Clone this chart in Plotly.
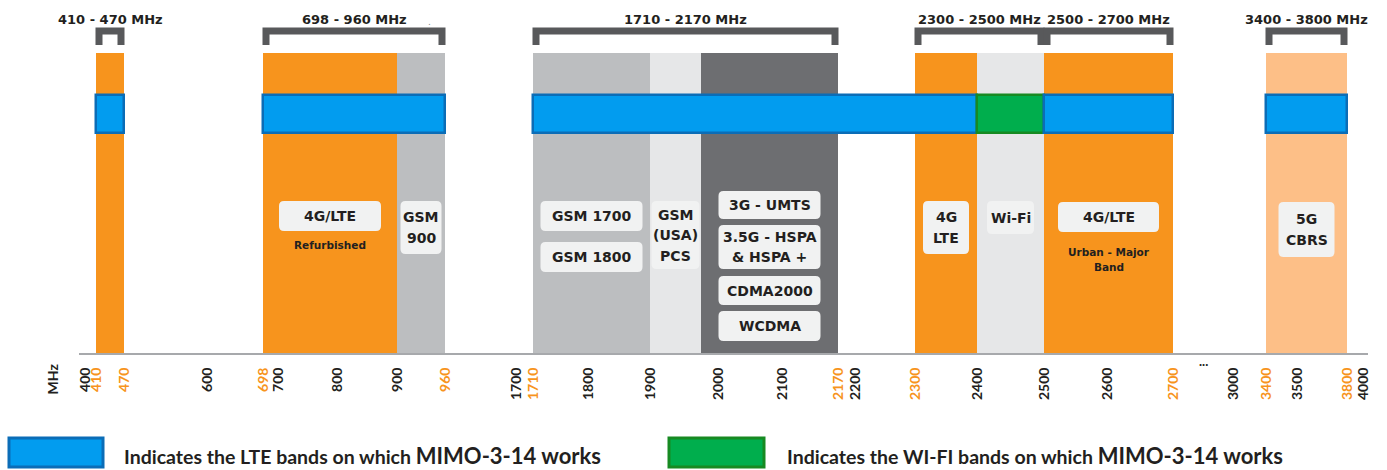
import numpy as np
import plotly.graph_objects as go

# ---------------- data ----------------
# frequency bands drawn as coloured columns (MHz)
band_start = [410, 698, 900, 1710, 1900, 1975, 2300, 2400, 2500, 3400]
band_end = [470, 900, 960, 1900, 1975, 2170, 2400, 2500, 2700, 3800]
band_kind = ["lte", "lte", "gsm", "gsm", "pcs", "umts", "lte", "wifi", "lte", "cbrs"]

# bands on which MIMO-3-14 works
support_start = [410, 698, 1710, 2400, 2500, 3400]
support_end = [470, 960, 2400, 2500, 2700, 3800]
support_type = ["LTE", "LTE", "LTE", "WIFI", "LTE", "LTE"]

# bracketed ranges at the top
range_start = [410, 698, 1710, 2300, 2500, 3400]
range_end = [470, 960, 2170, 2500, 2700, 3800]

# axis tick labels (MHz)
tick_values = [400, 410, 470, 600, 698, 700, 800, 900, 960, 1700, 1710, 1800, 1900,
               2000, 2100, 2170, 2200, 2300, 2400, 2500, 2600, 2700, 3000, 3400,
               3500, 3800, 4000]
tick_highlight = [410, 470, 698, 960, 1710, 2170, 2300, 2700, 3400, 3800]

# technology labels: (band index, lines)
tech_band = [1, 2, 3, 3, 4, 5, 5, 5, 5, 6, 7, 8, 9]
tech_lines = [["4G/LTE"], ["GSM", "900"], ["GSM 1700"], ["GSM 1800"],
              ["GSM", "(USA)", "PCS"], ["3G - UMTS"], ["3.5G - HSPA", "& HSPA +"],
              ["CDMA2000"], ["WCDMA"], ["4G", "LTE"], ["Wi-Fi"], ["4G/LTE"],
              ["5G", "CBRS"]]
sub_band = [1, 8]
sub_lines = [["Refurbished"], ["Urban - Major", "Band"]]

# ---------------- scale (broken, hand-spaced frequency axis) ----------------
BREAK_FREQ = [400, 410, 470, 600, 698, 700, 800, 900, 960, 1700, 1710, 1800, 1900,
              2000, 2100, 2170, 2200, 2300, 2400, 2500, 2600, 2700, 3000, 3400,
              3500, 3800, 4000]
BREAK_POS = [85, 96, 124, 207, 263, 278, 337, 397, 445, 516, 533, 588, 650,
             718, 782, 838, 855, 915, 977, 1044, 1107, 1173, 1233, 1266,
             1297, 1347, 1363]


def fx(f):
    return float(np.interp(f, BREAK_FREQ, BREAK_POS))


# ---------------- layout constants ----------------
W, H = 1387, 470
X0, X1 = 79, 1368          # plot area in px
AX_Y = 353                 # axis line
BAND_TOP = 53
BAR_TOP, BAR_BOT = 95, 133

ORANGE = "#F7941D"
COLORS = {"lte": ORANGE, "gsm": "#BCBEC0", "pcs": "#E6E7E8", "umts": "#6D6E71",
          "wifi": "#E6E7E8", "cbrs": "#FDBF87"}
BLUE, BLUE_LINE = "#029CEF", "#0B6DB7"
GREEN, GREEN_LINE = "#00AE4D", "#178A22"
TXT = "#231F20"
FONT = "DejaVu Sans"


def pxp(x):
    return (x - X0) / (X1 - X0)


def pyp(y):
    return (AX_Y - y) / AX_Y


fig = go.Figure()

# coloured band columns
for s, e, k in zip(band_start, band_end, band_kind):
    fig.add_trace(go.Bar(orientation="h", y=[(BAND_TOP + AX_Y) / 2], width=[AX_Y - BAND_TOP],
                         base=[fx(s)], x=[fx(e) - fx(s)], marker=dict(color=COLORS[k], line=dict(width=0)),
                         showlegend=False, hoverinfo="skip"))

# supported bands
for s, e, t in zip(support_start, support_end, support_type):
    fc, lc = (BLUE, BLUE_LINE) if t == "LTE" else (GREEN, GREEN_LINE)
    fig.add_trace(go.Bar(orientation="h", y=[(BAR_TOP + BAR_BOT) / 2], width=[BAR_BOT - BAR_TOP],
                         base=[fx(s)], x=[fx(e) - fx(s)],
                         marker=dict(color=fc, line=dict(width=2.5, color=lc)),
                         showlegend=False, hoverinfo="skip"))

shapes = []
annotations = []

# brackets + range labels
for s, e in zip(range_start, range_end):
    a, b = fx(s) + 3, fx(e) - 3
    shapes.append(dict(type="path", xref="x", yref="y",
                       path=f"M{a},45 L{a},31 L{b},31 L{b},45",
                       line=dict(color="#58595B", width=7)))
    annotations.append(dict(x=(fx(s) + fx(e)) / 2, y=19, xref="x", yref="y",
                            text=f"{s} - {e} MHz", showarrow=False,
                            font=dict(family=FONT, size=13, color=TXT, weight=700)))
annotations.append(dict(x=fx(940), y=22, xref="x", yref="y", text=".", showarrow=False,
                        font=dict(family=FONT, size=9, color="#888")))

# technology label boxes
BOX = [(102, 201, 231), (41, 201, 254), (102, 201, 231), (102, 242, 272), (48, 201, 269),
       (102, 191, 219), (102, 225, 269), (102, 276, 305), (102, 311, 341), (46, 201, 254),
       (47, 201, 234), (101, 202, 232), (56, 202, 257)]
LINE_GAP = 20.5
for bi, lines, (bw, y0, y1) in zip(tech_band, tech_lines, BOX):
    cx = (fx(band_start[bi]) + fx(band_end[bi])) / 2
    xa, xb = cx - bw / 2, cx + bw / 2
    r = 5
    path = (f"M{xa + r},{y0} L{xb - r},{y0} Q{xb},{y0} {xb},{y0 + r} L{xb},{y1 - r} "
            f"Q{xb},{y1} {xb - r},{y1} L{xa + r},{y1} Q{xa},{y1} {xa},{y1 - r} "
            f"L{xa},{y0 + r} Q{xa},{y0} {xa + r},{y0} Z")
    shapes.append(dict(type="path", xref="x", yref="y", path=path,
                       fillcolor="#F1F2F2", line=dict(width=0)))
    cy = (y0 + y1) / 2
    n = len(lines)
    for i, ln in enumerate(lines):
        annotations.append(dict(x=cx, y=cy + (i - (n - 1) / 2) * LINE_GAP, xref="x", yref="y",
                                text=ln, showarrow=False,
                                font=dict(family=FONT, size=14, color=TXT, weight=700)))

SUB_Y = [245, 252]
for bi, lines, y in zip(sub_band, sub_lines, SUB_Y):
    cx = (fx(band_start[bi]) + fx(band_end[bi])) / 2
    for i, ln in enumerate(lines):
        annotations.append(dict(x=cx, y=y + i * 15, xref="x", yref="y", text=ln, showarrow=False,
                                font=dict(family=FONT, size=10.5, color=TXT, weight=700)))

# axis extras
annotations.append(dict(x=pxp(52), y=pyp(362), xref="paper", yref="paper", text="MHz",
                        textangle=-90, showarrow=False, xanchor="center", yanchor="top",
                        font=dict(family="Lato", size=14, color=TXT, weight=700)))
annotations.append(dict(x=fx(2850), y=pyp(361), xref="x", yref="paper", text="...",
                        showarrow=False, yanchor="middle",
                        font=dict(family="Lato", size=13, color=TXT, weight=700)))

# legend
shapes.append(dict(type="rect", xref="paper", yref="paper", x0=pxp(9), x1=pxp(103),
                   y0=pyp(467), y1=pyp(438), fillcolor=BLUE, line=dict(color=BLUE_LINE, width=3)))
shapes.append(dict(type="rect", xref="paper", yref="paper", x0=pxp(669), x1=pxp(764),
                   y0=pyp(467), y1=pyp(438), fillcolor=GREEN, line=dict(color=GREEN_LINE, width=3)))
for x, what in [(122, "LTE"), (785, "WI-FI")]:
    annotations.append(dict(x=pxp(x), y=pyp(455), xref="paper", yref="paper",
                            xanchor="left", yanchor="middle", showarrow=False,
                            text=f"Indicates the {what} bands on which "
                                 f"<span style='font-size:22px'>MIMO-3-14 works</span>",
                            font=dict(family="Lato", size=19.5, color=TXT, weight=700)))

ticktext = []
for t in tick_values:
    if t in tick_highlight:
        ticktext.append(f"<span style='color:{ORANGE}'>{t}</span>")
    else:
        ticktext.append(str(t))

fig.update_layout(
    width=W, height=H, margin=dict(l=X0, r=W - X1, t=0, b=H - AX_Y),
    paper_bgcolor="white", plot_bgcolor="white", barmode="overlay", bargap=0,
    shapes=shapes, annotations=annotations, showlegend=False,
    xaxis=dict(range=[X0, X1], tickvals=[fx(t) for t in tick_values], ticktext=ticktext,
               tickangle=-90, ticks="outside", ticklen=7, tickcolor="rgba(0,0,0,0)",
               tickfont=dict(family="Lato", size=14, color=TXT, weight=700),
               showline=True, linecolor="#A7A9AC", linewidth=2, showgrid=False,
               zeroline=False, fixedrange=True),
    yaxis=dict(range=[AX_Y, 0], visible=False, fixedrange=True),
)

fig.write_html("out.html", config={"displayModeBar": False},
               post_script="document.body.style.margin='0';document.body.style.overflow='hidden';")
